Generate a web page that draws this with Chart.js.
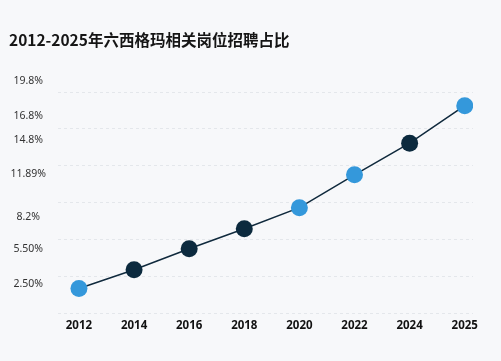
<!DOCTYPE html>
<html lang="zh">
<head>
<meta charset="UTF-8">
<title>2012-2025年六西格玛相关岗位招聘占比</title>
<script src="https://cdn.jsdelivr.net/npm/chart.js"></script>
<style>
  html, body { margin: 0; padding: 0; background: #f7f8fa; }
  #wrap { width: 501px; height: 361px; }
</style>
</head>
<body>
<div id="wrap"><canvas id="myChart"></canvas></div>
<script>
// data
const years = ['2012', '2014', '2016', '2018', '2020', '2022', '2024', '2025'];
const shares = [2.1, 3.7, 5.5, 7.2, 9.0, 11.8, 14.5, 17.7];
const tickValues = [2.5, 5.5, 8.2, 11.89, 14.8, 16.8, 19.8];
const tickLabels = ['2.50%', '5.50%', '8.2%', '11.89%', '14.8%', '16.8%', '19.8%'];
const gridValues = [0, 3.14, 6.28, 9.43, 12.57, 15.71, 18.86];

const BLUE = '#3498db';
const DARK = '#0c2a3e';
const pointColors = [BLUE, DARK, DARK, DARK, BLUE, BLUE, DARK, BLUE];

const Y_MAX = 20.4;

new Chart(document.getElementById('myChart'), {
  type: 'line',
  data: {
    datasets: [{
      data: shares.map((v, i) => ({ x: i, y: v })),
      borderColor: '#102a3d',
      borderWidth: 1.5,
      tension: 0,
      pointRadius: 8.5,
      pointHoverRadius: 8.5,
      pointBorderWidth: 0,
      pointBackgroundColor: pointColors
    }]
  },
  options: {
    responsive: true,
    maintainAspectRatio: false,
    animation: false,
    layout: { padding: { left: 9, right: 28, top: 0, bottom: 22 } },
    plugins: {
      legend: { display: false },
      tooltip: { enabled: false },
      title: {
        display: true,
        text: '2012-2025年六西格玛相关岗位招聘占比',
        align: 'start',
        color: '#151515',
        font: { family: "'Noto Sans CJK SC', 'Noto Sans'", size: 15.5, weight: 'bold' },
        padding: { top: 31, bottom: 24.4 }
      }
    },
    scales: {
      x: {
        type: 'linear',
        min: -0.38,
        max: 7.15,
        afterBuildTicks: (axis) => { axis.ticks = years.map((_, i) => ({ value: i })); },
        grid: { display: false, drawTicks: false },
        border: { display: false },
        ticks: {
          autoSkip: false,
          maxRotation: 0,
          padding: 6,
          color: '#111',
          font: { family: "'Noto Sans'", size: 11.5, weight: 'bold' },
          callback: (v) => years[v]
        }
      },
      y: {
        type: 'linear',
        position: 'left',
        min: 0,
        max: Y_MAX,
        afterBuildTicks: (axis) => { axis.ticks = gridValues.map(v => ({ value: v })); },
        afterFit: (axis) => { axis.width = 0; },
        grid: { color: '#e4e7eb', lineWidth: 1, drawTicks: false },
        border: { display: false, dash: [3, 3] },
        ticks: { display: false }
      },
      y2: {
        type: 'linear',
        position: 'left',
        min: 0,
        max: Y_MAX,
        afterBuildTicks: (axis) => { axis.ticks = tickValues.map(v => ({ value: v })); },
        afterFit: (axis) => { axis.width = 49; },
        grid: { display: false, drawTicks: false },
        border: { display: false },
        ticks: {
          crossAlign: 'center',
          padding: 12,
          color: '#333',
          font: { family: "'Noto Sans'", size: 10.5 },
          callback: (v, i) => tickLabels[i]
        }
      }
    }
  }
});
</script>
</body>
</html>
